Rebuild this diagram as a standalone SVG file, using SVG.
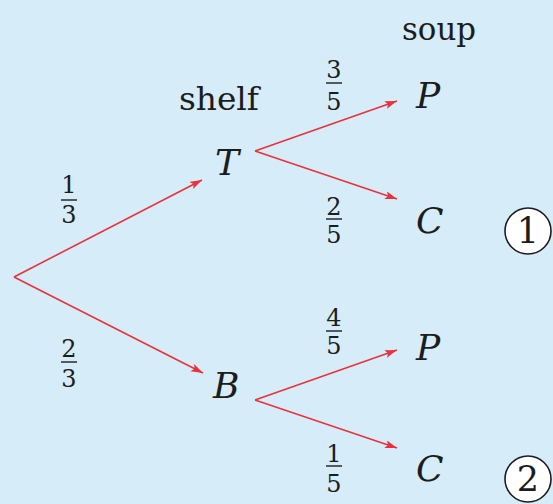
<svg xmlns="http://www.w3.org/2000/svg" width="553" height="504" viewBox="0 0 553 504">
<defs>
<marker id="ah" markerUnits="userSpaceOnUse" markerWidth="14" markerHeight="10" refX="12" refY="4" orient="auto">
<path d="M0,0 L12,4 L0,8 L2.5,4 Z" fill="#e8323c"/>
</marker>
<style>
text{font-family:"DejaVu Serif",serif;fill:#1c1c1c}
.f{font-size:24px;text-anchor:middle}
.h{font-size:32px}
.v{font-size:36px;font-style:italic}
.n{font-size:35px;text-anchor:middle}
.bar{stroke:#1c1c1c;stroke-width:1.4}
.c{fill:#ffffff;stroke:#1c1c1c;stroke-width:1.6}
</style>
</defs>
<rect width="553" height="504" fill="#d6ecf9"/>
<g id="connectors" stroke="#e8323c" stroke-width="1.6" fill="none">
<line x1="14" y1="277" x2="202" y2="180" marker-end="url(#ah)"/>
<line x1="14" y1="277" x2="203" y2="373" marker-end="url(#ah)"/>
<line x1="255" y1="151" x2="397" y2="101" marker-end="url(#ah)"/>
<line x1="255" y1="151" x2="397" y2="199" marker-end="url(#ah)"/>
<line x1="255" y1="400" x2="397" y2="350" marker-end="url(#ah)"/>
<line x1="255" y1="400" x2="397" y2="448" marker-end="url(#ah)"/>
</g>
<g id="edge-labels">
<text class="f" x="69" y="193">1</text><line class="bar" x1="61" y1="200" x2="77" y2="200"/><text class="f" x="69" y="223">3</text>
<text class="f" x="69" y="357">2</text><line class="bar" x1="61" y1="362" x2="77" y2="362"/><text class="f" x="69" y="387">3</text>
<text class="f" x="334" y="78">3</text><line class="bar" x1="326" y1="83" x2="342" y2="83"/><text class="f" x="334" y="110">5</text>
<text class="f" x="334" y="215">2</text><line class="bar" x1="326" y1="219" x2="342" y2="219"/><text class="f" x="334" y="243">5</text>
<text class="f" x="334" y="326">4</text><line class="bar" x1="326" y1="331" x2="342" y2="331"/><text class="f" x="334" y="354">5</text>
<text class="f" x="334" y="462">1</text><line class="bar" x1="326" y1="466" x2="342" y2="466"/><text class="f" x="334" y="492">5</text>
</g>
<g id="header-shelf"><text class="h" x="179" y="110" textLength="80" lengthAdjust="spacingAndGlyphs">shelf</text></g>
<g id="header-soup"><text class="h" x="402" y="40" textLength="74" lengthAdjust="spacingAndGlyphs">soup</text></g>
<g id="node-T"><text class="v" x="215" y="175">T</text></g>
<g id="node-B"><text class="v" x="213" y="398">B</text></g>
<g id="node-P1"><text class="v" x="416" y="108">P</text></g>
<g id="node-C1"><text class="v" x="416" y="233">C</text></g>
<g id="node-P2"><text class="v" x="416" y="360">P</text></g>
<g id="node-C2"><text class="v" x="416" y="481">C</text></g>
<g id="mark-1"><circle class="c" cx="528" cy="231" r="23"/><text class="n" x="528" y="243">1</text></g>
<g id="mark-2"><circle class="c" cx="528" cy="479" r="23"/><text class="n" x="528" y="491">2</text></g>
</svg>
